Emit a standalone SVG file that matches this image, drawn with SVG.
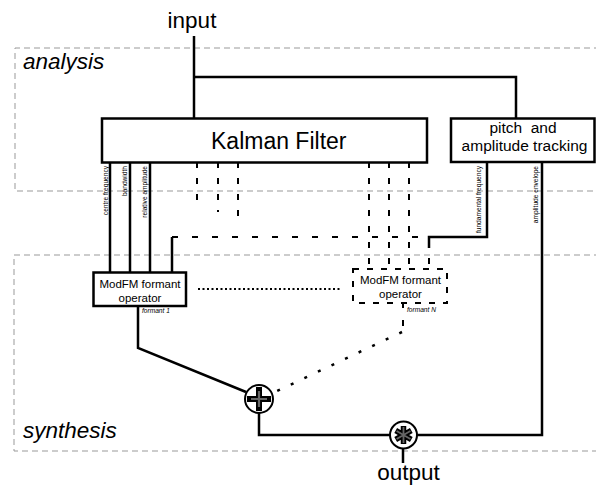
<svg xmlns="http://www.w3.org/2000/svg" width="596" height="485" viewBox="0 0 596 485">
<style>
text{font-family:"Liberation Sans",Arial,sans-serif;fill:#000}
.big{font-size:22.5px}
.it{font-style:italic}
.box{fill:#fff;stroke:#000;stroke-width:2.5}
.ln{fill:none;stroke:#000;stroke-width:2.5}
.dash{fill:none;stroke:#000;stroke-width:2;stroke-dasharray:6 10}
.hdash{fill:none;stroke:#000;stroke-width:2.2;stroke-dasharray:6 14}
.region{fill:none;stroke:#999;stroke-width:1;stroke-dasharray:6 4}
.lab{font-size:6.6px}
.op{font-size:11.5px;text-anchor:middle}
</style>
<g id="regions">
<path class="region" d="M600 48 H15 V191 H600"/>
<path class="region" d="M600 255 H14 V451 H600"/>
<text class="big it" x="23" y="69">analysis</text>
<text class="big it" x="23" y="438">synthesis</text>
</g>
<g id="connectors">
<path class="ln" d="M194 36 V118"/>
<path class="ln" d="M194 77 H516 V118"/>
<path class="ln" d="M110 163 V272 M130 163 V272 M150 163 V272"/>
<path class="ln" d="M172 272 V237"/>
<path class="hdash" d="M172 237 H420"/>
<path class="dash" d="M197 162 V200 M218 162 V212 M238 162 V216"/>
<path class="dash" d="M369 162 V269 M389 162 V269 M409 162 V269"/>
<path class="ln" d="M487 163 V237 H429 V248"/>
<path fill="none" stroke="#000" stroke-width="2" d="M429 258 V264"/>
<path class="ln" d="M542 163 V435 H417"/>
<path fill="none" stroke="#000" stroke-width="2" stroke-dasharray="2 2.5" d="M198 289 H340"/>
<path class="ln" d="M138 306 V348 L246 392"/>
<path fill="none" stroke="#000" stroke-width="2" d="M403 303 V308 M403 320 V326"/>
<path fill="none" stroke="#000" stroke-width="2.5" stroke-dasharray="3 12" d="M402 332 L275 392"/>
<path class="ln" d="M259 413 V435 H390"/>
<path class="ln" d="M403 448 V463"/>
<text class="lab" transform="translate(108,166) rotate(-90)" text-anchor="end">centre frequency</text>
<text class="lab" transform="translate(127,166) rotate(-90)" text-anchor="end">bandwidth</text>
<text class="lab" transform="translate(147,166) rotate(-90)" text-anchor="end">relative amplitude</text>
<text class="lab" transform="translate(481,166) rotate(-90)" text-anchor="end">fundamental frequency</text>
<text class="lab" transform="translate(537.5,166) rotate(-90)" text-anchor="end">amplitude envelope</text>
<text class="lab it" x="142" y="313">formant 1</text>
<text class="lab it" x="407" y="312">formant N</text>
</g>
<g id="input"><text class="big" x="192" y="28" text-anchor="middle">input</text></g>
<g id="output"><text class="big" x="408.5" y="480" text-anchor="middle">output</text></g>
<g id="kalman">
<rect class="box" x="102" y="118.5" width="325" height="44"/>
<text x="211" y="149" font-size="23">Kalman Filter</text>
</g>
<g id="pitch">
<rect class="box" x="451" y="118.5" width="143.5" height="43.5"/>
<text x="523" y="133" font-size="15.5" text-anchor="middle" style="white-space:pre">pitch  and</text>
<text x="524.5" y="151" font-size="15.5" text-anchor="middle">amplitude tracking</text>
</g>
<g id="formant1">
<rect class="box" x="93.5" y="272.5" width="92.5" height="33.5"/>
<text class="op" x="140" y="288">ModFM formant</text>
<text class="op" x="140" y="302">operator</text>
</g>
<g id="formantN">
<rect x="353" y="269" width="94" height="34" fill="none" stroke="#000" stroke-width="2" stroke-dasharray="6 8"/>
<text class="op" x="400.5" y="284">ModFM formant</text>
<text class="op" x="400.5" y="298">operator</text>
</g>
<g id="sum">
<circle cx="259" cy="399" r="14" fill="#fff" stroke="#000" stroke-width="2"/>
<path d="M250 399 H268 M259 390 V408" stroke="#000" stroke-width="6" stroke-linecap="square"/>
<path d="M251 399 H267 M259 391 V407" stroke="#666" stroke-width="2.2"/>
</g>
<g id="product">
<circle cx="403.5" cy="435" r="13.5" fill="#fff" stroke="#000" stroke-width="2"/>
<path d="M403.5 426 V444 M395.7 430.5 L411.3 439.5 M395.7 439.5 L411.3 430.5" stroke="#000" stroke-width="5.5"/>
<path d="M403.5 427 V443 M396.6 431 L410.4 439 M396.6 439 L410.4 431" stroke="#666" stroke-width="1.8"/>
</g>
</svg>
